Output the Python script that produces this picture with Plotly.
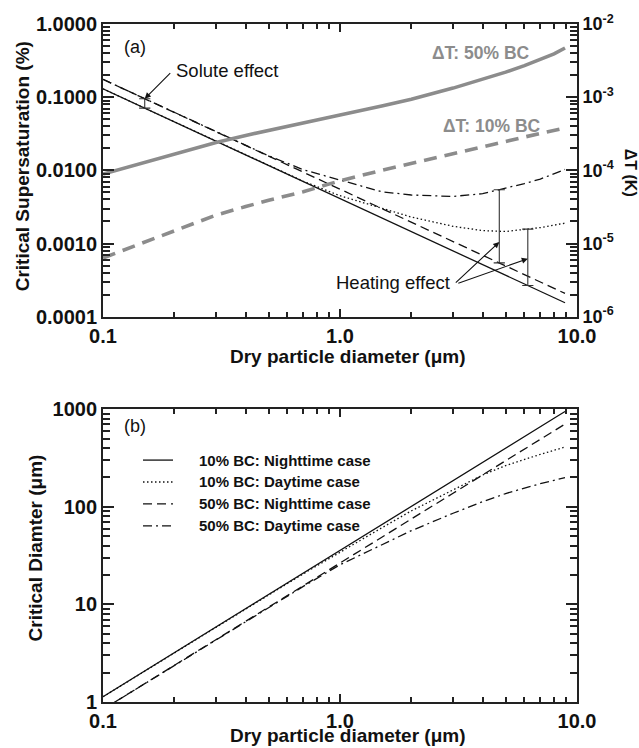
import numpy as np
import plotly.graph_objects as go

# ---------------- data ----------------
# dry particle diameter (um)
DIAM = [0.1, 0.15, 0.2, 0.3, 0.4, 0.5, 0.7, 1.0, 1.5, 2.0, 3.0, 4.0, 5.0, 6.0, 7.0, 8.0, 8.9]

# (a) critical supersaturation (%)
SC_10_NIGHT = [0.13, 0.0708, 0.0460, 0.0250, 0.01625, 0.01163, 0.00702, 0.00411, 0.00224,
               0.00145, 7.91e-4, 5.14e-4, 3.68e-4, 2.80e-4, 2.22e-4, 1.82e-4, 1.55e-4]
SC_10_DAY = [0.13, 0.0708, 0.0460, 0.0250, 0.01625, 0.01165, 0.0071, 0.0045, 0.0030,
             0.0023, 0.00172, 0.0015, 0.00146, 0.00155, 0.00165, 0.00178, 0.0019]
SC_50_NIGHT = [0.175, 0.0953, 0.0619, 0.0337, 0.0219, 0.01565, 0.00945, 0.00553, 0.00301,
               0.00196, 0.001065, 6.92e-4, 4.95e-4, 3.77e-4, 2.99e-4, 2.45e-4, 2.08e-4]
SC_50_DAY = [0.175, 0.0953, 0.0619, 0.0337, 0.0219, 0.0158, 0.0102, 0.0074, 0.0051,
             0.0046, 0.0044, 0.0048, 0.0057, 0.0066, 0.0076, 0.0089, 0.0103]

# (a) particle heating, right axis (K)
DT_50 = [8.9e-5, 1.28e-4, 1.65e-4, 2.4e-4, 3.0e-4, 3.5e-4, 4.35e-4, 5.7e-4, 7.6e-4,
         9.4e-4, 1.33e-3, 1.75e-3, 2.2e-3, 2.7e-3, 3.25e-3, 3.9e-3, 4.7e-3]
DT_10 = [6.35e-6, 1.05e-5, 1.5e-5, 2.45e-5, 3.2e-5, 3.9e-5, 5.1e-5, 7.2e-5, 1.0e-4,
         1.25e-4, 1.7e-4, 2.1e-4, 2.5e-4, 2.85e-4, 3.2e-4, 3.5e-4, 3.8e-4]

# (b) critical diameter (um)
DC_10_NIGHT = [1.13, 2.08, 3.20, 5.87, 9.04, 12.6, 20.9, 35.7, 65.6, 101, 186, 286, 400, 525, 662, 809, 949]
DC_10_DAY = [1.13, 2.08, 3.20, 5.85, 9.0, 12.5, 20.6, 34.5, 61, 91, 148, 212, 265, 308, 345, 380, 410]
DC_50_NIGHT = [0.84, 1.54, 2.38, 4.36, 6.72, 9.39, 15.6, 26.6, 48.8, 75.1, 138, 213, 297, 390, 492, 601, 705]
DC_50_DAY = [0.84, 1.54, 2.38, 4.36, 6.72, 9.35, 15.3, 25.5, 41, 57, 86, 113, 137, 157, 173, 187, 199]

CASE_NAMES = ["10% BC: Nighttime case", "10% BC: Daytime case",
              "50% BC: Nighttime case", "50% BC: Daytime case"]

# tick labels
X_TICKS = [0.1, 1.0, 10.0]
X_TICKTEXT = ["0.1", "1.0", "10.0"]
SC_TICKS = [1e-4, 1e-3, 1e-2, 1e-1, 1.0]
SC_TICKTEXT = ["0.0001", "0.0010", "0.0100", "0.1000", "1.0000"]
DT_TICKS = [1e-6, 1e-5, 1e-4, 1e-3, 1e-2]
DT_TICKTEXT = ["10<sup>-6</sup>", "10<sup>-5</sup>", "10<sup>-4</sup>", "10<sup>-3</sup>", "10<sup>-2</sup>"]
DC_TICKS = [1, 10, 100, 1000]
DC_TICKTEXT = ["1", "10", "100", "1000"]

# diameters where the effects are marked with brackets
SOLUTE_D = 0.15
HEAT_D_50 = 4.7
HEAT_D_10 = 6.2


def loglog_at(d, xs, ys):
    return float(10 ** np.interp(np.log10(d), np.log10(xs), np.log10(ys)))


def minor_positions(lo_exp, hi_exp):
    return [k * 10.0 ** e for e in range(lo_exp, hi_exp) for k in range(2, 10)]


# ---------------- styles ----------------
FONT = "Liberation Sans"
BLACK = "#111111"
GREY = "#8c8c8c"
AXIS = "#222222"
LW = 1.3
STYLES = [
    dict(color=BLACK, width=LW, dash="solid"),
    dict(color=BLACK, width=LW, dash="1.5px,2.5px"),
    dict(color=BLACK, width=LW, dash="9px,5px"),
    dict(color=BLACK, width=LW, dash="9px,4px,2px,4px"),
]

fig = go.Figure()

# panel (a): supersaturation curves
for ys, st, nm in zip([SC_10_NIGHT, SC_10_DAY, SC_50_NIGHT, SC_50_DAY], STYLES, CASE_NAMES):
    fig.add_trace(go.Scatter(x=DIAM, y=ys, mode="lines", line=st, name=nm,
                             xaxis="x", yaxis="y", showlegend=False))

# panel (a): heating on the right axis
fig.add_trace(go.Scatter(x=DIAM, y=DT_50, mode="lines", line=dict(color=GREY, width=3.6),
                         xaxis="x", yaxis="y2", showlegend=False))
fig.add_trace(go.Scatter(x=DIAM, y=DT_10, mode="lines",
                         line=dict(color=GREY, width=3.6, dash="13px,8px"),
                         xaxis="x", yaxis="y2", showlegend=False))

# effect brackets
brackets = [
    (SOLUTE_D, SC_10_NIGHT, SC_50_NIGHT),
    (HEAT_D_50, SC_50_NIGHT, SC_50_DAY),
    (HEAT_D_10, SC_10_NIGHT, SC_10_DAY),
]
for d, lo, hi in brackets:
    fig.add_trace(go.Scatter(
        x=[d, d], y=[loglog_at(d, DIAM, lo), loglog_at(d, DIAM, hi)],
        mode="lines+markers", line=dict(color="#333333", width=1.1),
        marker=dict(symbol="line-ew", size=8, line=dict(color="#333333", width=1.1)),
        xaxis="x", yaxis="y", showlegend=False, hoverinfo="skip"))

# panel (b): critical diameter
for ys, st, nm in zip([DC_10_NIGHT, DC_10_DAY, DC_50_NIGHT, DC_50_DAY], STYLES, CASE_NAMES):
    fig.add_trace(go.Scatter(x=DIAM, y=ys, mode="lines", line=st, name=nm,
                             xaxis="x2", yaxis="y3", showlegend=False))

# empty traces that carry the minor-tick axes
for xa, ya_ in [("x3", "y4"), ("x4", "y5")]:
    fig.add_trace(go.Scatter(x=[], y=[], xaxis=xa, yaxis=ya_, showlegend=False,
                             hoverinfo="skip"))

# ---------------- axes ----------------
TICKFONT = dict(family=FONT, size=20, color="#111", weight="bold")


def xaxis_major(anchor):
    return dict(type="log", range=[-1, 1], anchor=anchor, domain=[0, 1],
                tickmode="array", tickvals=X_TICKS, ticktext=X_TICKTEXT,
                ticks="inside", ticklen=8, tickwidth=1.8, tickcolor=AXIS,
                showline=True, linecolor=AXIS, linewidth=1.8, mirror="ticks",
                showgrid=False, zeroline=False, tickfont=TICKFONT)


def yaxis_major(lo, hi, domain, anchor, vals, text):
    return dict(type="log", range=[lo, hi], domain=domain, anchor=anchor,
                tickmode="array", tickvals=vals, ticktext=text,
                ticks="inside", ticklen=11, tickwidth=1.8, tickcolor=AXIS,
                showline=True, linecolor=AXIS, linewidth=1.8,
                showgrid=False, zeroline=False, tickfont=TICKFONT)


def minor_x(over, anchor):
    return dict(type="log", range=[-1, 1], overlaying=over, anchor=anchor,
                tickmode="array", tickvals=minor_positions(-1, 1), showticklabels=False,
                ticks="inside", ticklen=5, tickwidth=1.5, tickcolor=AXIS, mirror="ticks",
                showline=False, showgrid=False, zeroline=False)


def minor_y(over, anchor, lo, hi, ticklen):
    return dict(type="log", range=[lo, hi], overlaying=over, anchor=anchor,
                tickmode="array", tickvals=minor_positions(lo, hi), showticklabels=False,
                ticks="inside", ticklen=ticklen, tickwidth=1.5, tickcolor=AXIS, mirror="ticks",
                showline=False, showgrid=False, zeroline=False)


A_DOM = [0.5683, 1.0]
B_DOM = [0.0, 0.4317]

ya = yaxis_major(-4, 0, A_DOM, "x", SC_TICKS, SC_TICKTEXT)
ya.update(mirror=False)
y2 = yaxis_major(-6, -2, A_DOM, "x", DT_TICKS, DT_TICKTEXT)
y2.update(overlaying="y", side="right", tickfont=dict(TICKFONT, size=18))
yb = yaxis_major(0, 3, B_DOM, "x2", DC_TICKS, DC_TICKTEXT)
yb.update(mirror="ticks")

fig.update_layout(
    width=639, height=748,
    margin=dict(l=103, r=62, t=21, b=46),
    paper_bgcolor="white", plot_bgcolor="white",
    font=dict(family=FONT, color="#111"),
    xaxis=xaxis_major("y"),
    xaxis2=xaxis_major("y3"),
    xaxis3=minor_x("x", "y4"),
    xaxis4=minor_x("x2", "y5"),
    yaxis=ya, yaxis2=y2, yaxis3=yb,
    yaxis4=minor_y("y", "x3", -4, 0, 7),
    yaxis5=minor_y("y3", "x4", 0, 3, 7),
    showlegend=False,
)

# ---------------- text ----------------
TITLE = dict(family=FONT, size=19, color="#111", weight="bold")
ann = []


def paper_text(text, x, y, font, xanchor="center", yanchor="middle", angle=0):
    ann.append(dict(text=text, x=x, y=y, xref="paper", yref="paper", showarrow=False,
                    xanchor=xanchor, yanchor=yanchor, font=font, textangle=angle))


paper_text("Dry particle diameter (\u03bcm)", 0.515, 0.5095, TITLE)
paper_text("Dry particle diameter (\u03bcm)", 0.515, -0.0675, TITLE, yanchor="bottom")
paper_text("Critical Supersaturation (%)", -0.171, 0.790, TITLE, angle=-90)
paper_text("Critical Diamter (\u03bcm)", -0.142, 0.2275, TITLE, angle=-90)
paper_text("\u0394T (K)", 1.113, 0.7812, dict(family=FONT, size=16, color="#111", weight="bold"),
           angle=90)

LABEL = dict(family=FONT, size=18, color="#111")
paper_text("(a)", 0.040, 0.9662, LABEL, xanchor="left")
paper_text("(b)", 0.040, 0.4068, LABEL, xanchor="left")

GLABEL = dict(family=FONT, size=17.5, color=GREY, weight="bold")
paper_text("\u0394T: 50% BC", 0.905, 0.9574, GLABEL, xanchor="right")
paper_text("\u0394T: 10% BC", 0.928, 0.8502, GLABEL, xanchor="right")

NOTE = dict(family=FONT, size=18.5, color="#111")
paper_text("Solute effect", 0.150, 0.9310, NOTE, xanchor="left")
paper_text("Heating effect", 0.737, 0.6182, NOTE, xanchor="right")

ARROW = dict(showarrow=True, arrowhead=2, arrowsize=1.1, arrowwidth=1.1, arrowcolor="#111",
             text="", xref="x", yref="y", axref="pixel", ayref="pixel", standoff=0)
ann.append(dict(ARROW, x=np.log10(SOLUTE_D), y=np.log10(loglog_at(SOLUTE_D, DIAM, SC_50_NIGHT)),
                ax=27, ay=-27))
ann.append(dict(ARROW, x=np.log10(HEAT_D_50), y=np.log10(1.05e-3), ax=-45, ay=42))
ann.append(dict(ARROW, x=np.log10(HEAT_D_10), y=np.log10(6.2e-4), ax=-71, ay=25))

# legend for panel (b)
LEG = dict(family=FONT, size=15, color="#111", weight="bold")
shapes = []
leg_y = [0.3568, 0.3245, 0.2922, 0.2599]
for yy, st, nm in zip(leg_y, STYLES, CASE_NAMES):
    shapes.append(dict(type="line", xref="paper", yref="paper", x0=0.0844, x1=0.1477,
                       y0=yy, y1=yy, line=st))
    paper_text(nm, 0.1983, yy, LEG, xanchor="left")

fig.update_layout(annotations=ann, shapes=shapes)
fig.write_html("out.html")
